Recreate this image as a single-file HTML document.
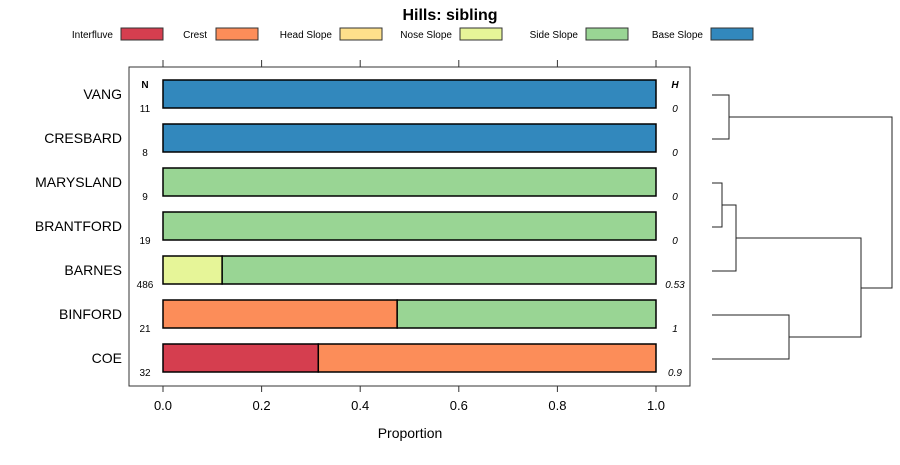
<!DOCTYPE html>
<html><head><meta charset="utf-8"><style>
body{margin:0;background:#fff;font-family:"Liberation Sans",sans-serif}
svg text{font-family:"Liberation Sans",sans-serif}
</style></head><body>
<svg width="900" height="460">
<text x="450" y="20" text-anchor="middle" font-size="16" font-weight="bold">Hills: sibling</text>
<g id="legend"></g>
<rect x="129" y="67" width="561" height="319" fill="none" stroke="#333"/>
<g id="bars"></g>
<g id="axis"></g>
<text x="410" y="438" text-anchor="middle" font-size="14">Proportion</text>
<text x="145" y="88" text-anchor="middle" font-size="10" font-weight="bold">N</text>
<text x="675" y="88" text-anchor="middle" font-size="10" font-weight="bold" font-style="italic">H</text>
<g id="dendro" fill="none" stroke="#222" stroke-width="1"></g>
</svg>
<script>
const series=["Interfluve","Crest","Head Slope","Nose Slope","Side Slope","Base Slope"];
const colors=["#d53e4f","#fc8d59","#fee08b","#e6f598","#99d594","#3288bd"];
const categories=["VANG","CRESBARD","MARYSLAND","BRANTFORD","BARNES","BINFORD","COE"];
const nValues=[11,8,9,19,486,21,32];
const hValues=["0","0","0","0","0.53","1","0.9"];
const interfluve=[0,0,0,0,0,0,0.315];
const crest=[0,0,0,0,0,0.475,0.685];
const headSlope=[0,0,0,0,0,0,0];
const noseSlope=[0,0,0,0,0.12,0,0];
const sideSlope=[0,0,1,1,0.88,0.525,0];
const baseSlope=[1,1,0,0,0,0,0];
const ticks=[0,0.2,0.4,0.6,0.8,1.0];
const tickLabels=["0.0","0.2","0.4","0.6","0.8","1.0"];
const NS="http://www.w3.org/2000/svg";
const X=v=>163+v*493;
const Y=i=>94+i*44;
function mk(t,a,p){const e=document.createElementNS(NS,t);for(const k in a)e.setAttribute(k,a[k]);p.appendChild(e);return e;}
const vals=[interfluve,crest,headSlope,noseSlope,sideSlope,baseSlope];
const lg=document.getElementById('legend');
const lx=[[113,121],[207,216],[332,340],[452,460],[578,586],[703,711]];
series.forEach((s,j)=>{
 const t=mk('text',{x:lx[j][0],y:38,'text-anchor':'end','font-size':10},lg);t.textContent=s;
 
 
 const r=mk('rect',{x:lx[j][1],y:28,width:42,height:12,fill:colors[j],stroke:'#333'},lg);
 
 
});
const bg=document.getElementById('bars');
categories.forEach((c,i)=>{
 let acc=0;const y=Y(i);
 vals.forEach((arr,j)=>{const v=arr[i];if(v<=0)return;
  const r=mk('rect',{x:X(acc),y:y-14,width:X(acc+v)-X(acc),height:28,fill:colors[j],stroke:'#000','stroke-width':1.5},bg);
  
  
  acc+=v;});
 const l=mk('text',{x:122,y:y+5,'text-anchor':'end','font-size':14},bg);l.textContent=c;
 
 
 const n=mk('text',{x:145,y:y+18,'text-anchor':'middle','font-size':10},bg);n.textContent=nValues[i];
 
 
 const h=mk('text',{x:675,y:y+18,'text-anchor':'middle','font-size':10,'font-style':'italic'},bg);h.textContent=hValues[i];
 
 
});
const ax=document.getElementById('axis');
ticks.forEach((t,k)=>{
 mk('line',{x1:X(t),x2:X(t),y1:386,y2:392,stroke:'#333'},ax);
 mk('line',{x1:X(t),x2:X(t),y1:60,y2:67,stroke:'#333'},ax);
 const e=mk('text',{x:X(t),y:410,'text-anchor':'middle','font-size':13},ax);e.textContent=tickLabels[k];
 
 
});
const dg=document.getElementById('dendro');
const paths=["M712 95H729V139H712","M729 117H892V288H861","M712 183H722V227H712","M722 205H736V271H712","M736 238H861V337H789","M712 315H789V359H712"];
paths.forEach(d=>{const p=mk('path',{d:d},dg);});
</script>
</body></html>
